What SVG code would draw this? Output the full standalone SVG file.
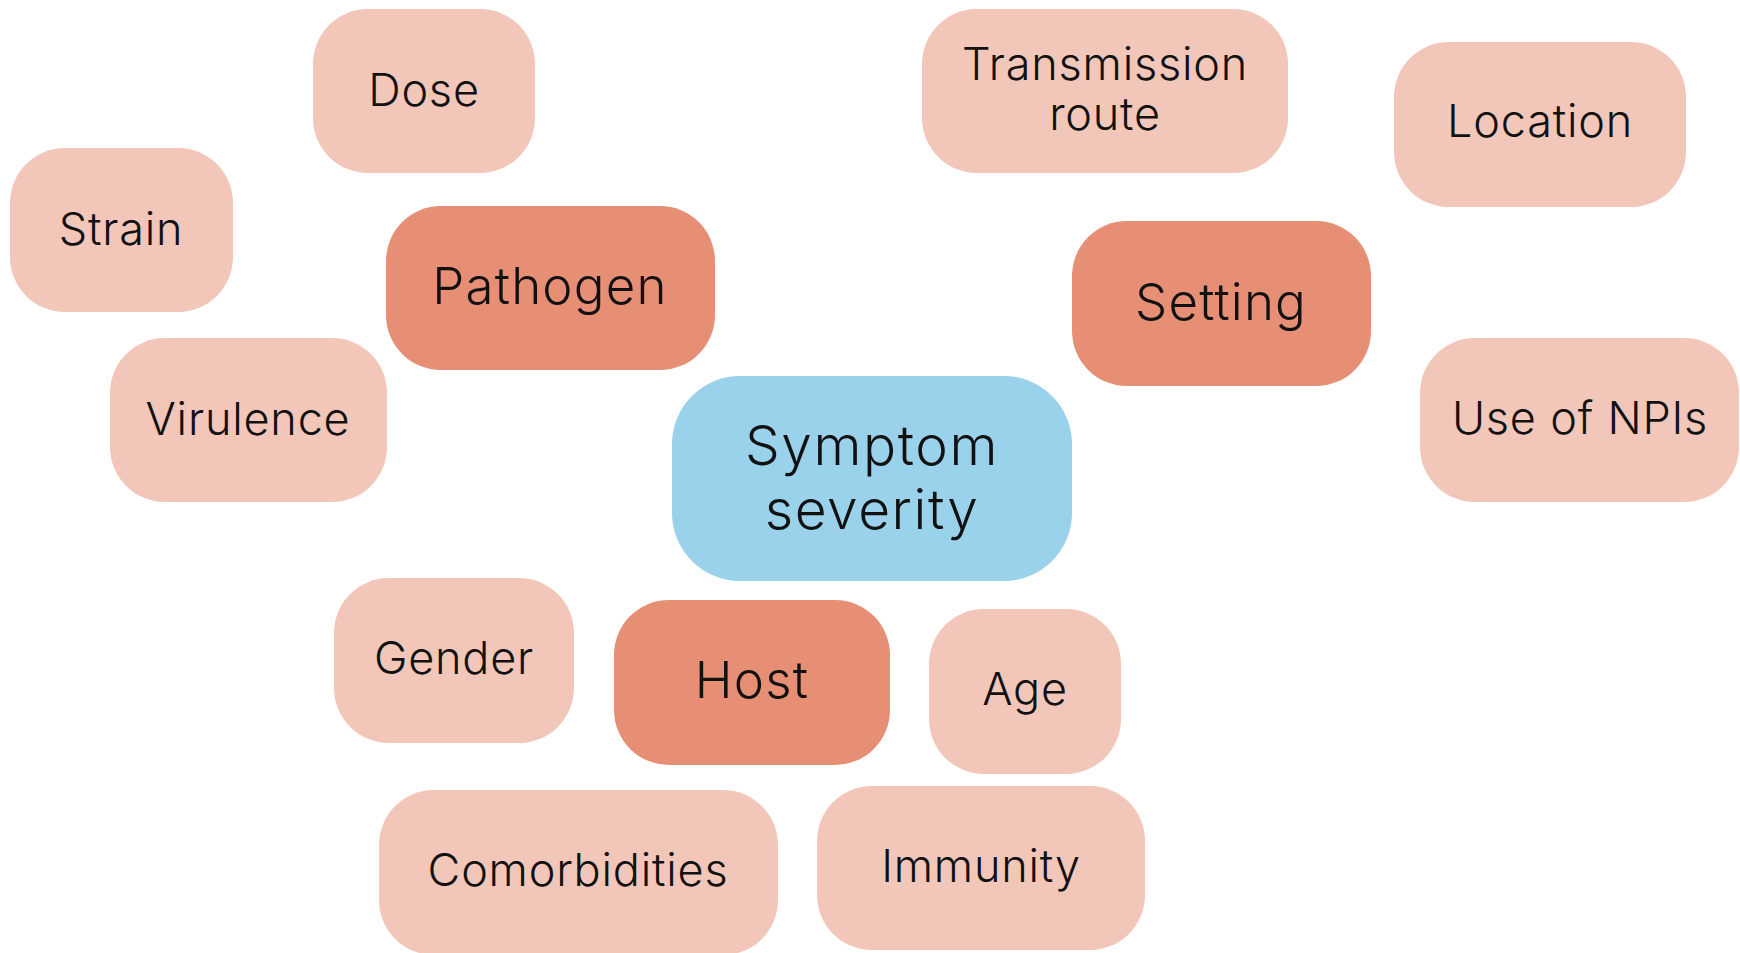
<svg xmlns="http://www.w3.org/2000/svg" width="1740" height="953" viewBox="0 0 1740 953">
<style>
.lt{fill:#F2C6B9}
.md{fill:#E68F75}
.bl{fill:#9AD2EB}
text{font-family:Inter,"Noto Sans","DejaVu Sans",sans-serif;font-weight:300;fill:#111;text-anchor:middle}
.s{font-size:45px;letter-spacing:0.8px}
.m{font-size:51px;letter-spacing:1.2px}
.l{font-size:55px;letter-spacing:1.6px}
</style>
<rect width="1740" height="953" fill="#fff"/>
<g id="dose"><rect class="lt" x="313" y="9" width="222" height="164" rx="55"/><text class="s" x="424" y="106">Dose</text></g>
<g id="strain"><rect class="lt" x="10" y="148" width="223" height="164" rx="55"/><text class="s" x="121" y="245">Strain</text></g>
<g id="pathogen"><rect class="md" x="386" y="206" width="329" height="164" rx="55"/><text class="m" x="550" y="304">Pathogen</text></g>
<g id="virulence"><rect class="lt" x="110" y="338" width="277" height="164" rx="55"/><text class="s" x="248" y="435">Virulence</text></g>
<g id="transmission-route"><rect class="lt" x="922" y="9" width="366" height="164" rx="55"/><text class="s" x="1105" y="80">Transmission</text><text class="s" x="1105" y="130">route</text></g>
<g id="location"><rect class="lt" x="1394" y="42" width="292" height="165" rx="55"/><text class="s" x="1540" y="137">Location</text></g>
<g id="setting"><rect class="md" x="1072" y="221" width="299" height="165" rx="55"/><text class="m" x="1221" y="320">Setting</text></g>
<g id="use-of-npis"><rect class="lt" x="1420" y="338" width="319" height="164" rx="55"/><text class="s" x="1580" y="434">Use of NPIs</text></g>
<g id="symptom-severity"><rect class="bl" x="672" y="376" width="400" height="205" rx="68"/><text class="l" x="872" y="465">Symptom</text><text class="l" x="872" y="529">severity</text></g>
<g id="gender"><rect class="lt" x="334" y="578" width="240" height="165" rx="55"/><text class="s" x="454" y="674">Gender</text></g>
<g id="host"><rect class="md" x="614" y="600" width="276" height="165" rx="55"/><text class="m" x="752" y="698">Host</text></g>
<g id="age"><rect class="lt" x="929" y="609" width="192" height="165" rx="55"/><text class="s" x="1025" y="705">Age</text></g>
<g id="comorbidities"><rect class="lt" x="379" y="790" width="399" height="165" rx="55"/><text class="s" x="578" y="886">Comorbidities</text></g>
<g id="immunity"><rect class="lt" x="817" y="786" width="328" height="164" rx="55"/><text class="s" x="981" y="882">Immunity</text></g>
</svg>
